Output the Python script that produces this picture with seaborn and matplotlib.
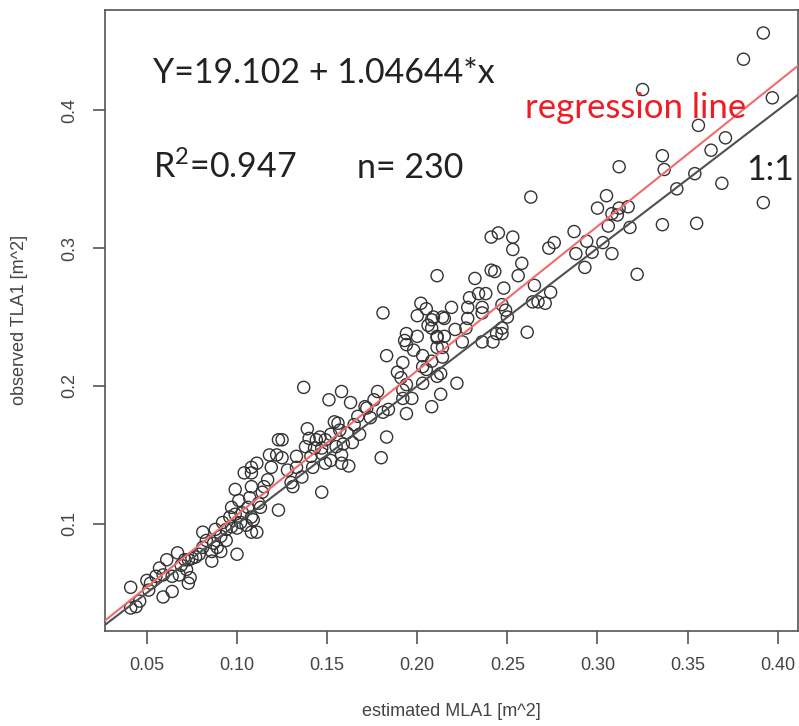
import matplotlib
matplotlib.use("Agg")
import matplotlib.pyplot as plt
import numpy as np
import pandas as pd
import seaborn as sns

# ---- data (estimated MLA1 vs observed TLA1, m^2) ----
estimated_mla1 = [
    0.041, 0.041, 0.044, 0.046, 0.050, 0.052, 0.055, 0.057, 0.059, 0.061,
    0.064, 0.064, 0.067, 0.068, 0.071, 0.072, 0.073, 0.074, 0.073, 0.075,
    0.077, 0.081, 0.088, 0.092, 0.083, 0.087, 0.091, 0.081, 0.089, 0.091,
    0.086, 0.123, 0.125, 0.122, 0.125, 0.111, 0.108, 0.104, 0.108, 0.119,
    0.099, 0.108, 0.115, 0.114, 0.107, 0.106, 0.112, 0.113, 0.097, 0.123,
    0.096, 0.099, 0.103, 0.108, 0.102, 0.109, 0.097, 0.108, 0.111, 0.100,
    0.094, 0.100, 0.139, 0.140, 0.144, 0.138, 0.143, 0.133, 0.141, 0.133,
    0.142, 0.136, 0.130, 0.131, 0.137, 0.158, 0.178, 0.151, 0.163, 0.171,
    0.172, 0.167, 0.174, 0.154, 0.156, 0.146, 0.152, 0.161, 0.168, 0.147,
    0.155, 0.159, 0.164, 0.147, 0.158, 0.149, 0.152, 0.158, 0.162, 0.147,
    0.183, 0.180, 0.181, 0.194, 0.193, 0.194, 0.183, 0.192, 0.191, 0.194,
    0.192, 0.192, 0.197, 0.181, 0.184, 0.194, 0.241, 0.241, 0.243, 0.211,
    0.232, 0.234, 0.238, 0.229, 0.228, 0.236, 0.236, 0.219, 0.202, 0.205,
    0.200, 0.209, 0.215, 0.214, 0.208, 0.208, 0.228, 0.227, 0.211, 0.211,
    0.215, 0.200, 0.211, 0.214, 0.225, 0.236, 0.242, 0.244, 0.203, 0.214,
    0.208, 0.203, 0.205, 0.211, 0.213, 0.203, 0.222, 0.213, 0.208, 0.263,
    0.245, 0.253, 0.253, 0.273, 0.276, 0.287, 0.288, 0.258, 0.256, 0.265,
    0.274, 0.248, 0.247, 0.264, 0.267, 0.271, 0.249, 0.250, 0.247, 0.247,
    0.261, 0.325, 0.336, 0.337, 0.312, 0.344, 0.305, 0.300, 0.312, 0.317,
    0.308, 0.311, 0.306, 0.318, 0.336, 0.294, 0.303, 0.297, 0.308, 0.293,
    0.322, 0.392, 0.381, 0.397, 0.356, 0.371, 0.363, 0.354, 0.369, 0.392,
    0.355, 0.079, 0.069, 0.094, 0.105, 0.101, 0.117, 0.128, 0.149, 0.157,
    0.165, 0.189, 0.198, 0.206, 0.221, 0.086, 0.059, 0.051, 0.118, 0.176,
]
observed_tla1 = [
    0.039, 0.054, 0.040, 0.044, 0.059, 0.057, 0.062, 0.068, 0.047, 0.074,
    0.051, 0.062, 0.079, 0.063, 0.074, 0.067, 0.057, 0.061, 0.074, 0.075,
    0.076, 0.094, 0.096, 0.101, 0.088, 0.086, 0.091, 0.083, 0.083, 0.080,
    0.073, 0.161, 0.161, 0.150, 0.148, 0.144, 0.141, 0.137, 0.137, 0.141,
    0.125, 0.127, 0.127, 0.123, 0.119, 0.112, 0.115, 0.112, 0.112, 0.110,
    0.105, 0.107, 0.108, 0.105, 0.101, 0.103, 0.098, 0.094, 0.094, 0.097,
    0.088, 0.078, 0.169, 0.162, 0.161, 0.156, 0.155, 0.149, 0.149, 0.141,
    0.141, 0.134, 0.130, 0.127, 0.199, 0.196, 0.196, 0.190, 0.188, 0.185,
    0.184, 0.178, 0.177, 0.174, 0.173, 0.163, 0.165, 0.166, 0.165, 0.155,
    0.156, 0.158, 0.159, 0.151, 0.150, 0.144, 0.146, 0.144, 0.142, 0.123,
    0.163, 0.148, 0.253, 0.238, 0.233, 0.230, 0.222, 0.217, 0.206, 0.201,
    0.197, 0.191, 0.191, 0.181, 0.183, 0.180, 0.308, 0.284, 0.283, 0.280,
    0.278, 0.267, 0.267, 0.264, 0.257, 0.257, 0.253, 0.257, 0.260, 0.256,
    0.251, 0.250, 0.249, 0.250, 0.248, 0.242, 0.249, 0.242, 0.236, 0.235,
    0.236, 0.236, 0.228, 0.228, 0.232, 0.232, 0.232, 0.238, 0.222, 0.221,
    0.218, 0.214, 0.212, 0.207, 0.209, 0.202, 0.202, 0.194, 0.185, 0.337,
    0.311, 0.308, 0.299, 0.300, 0.304, 0.312, 0.296, 0.289, 0.280, 0.273,
    0.268, 0.271, 0.259, 0.261, 0.261, 0.260, 0.255, 0.250, 0.242, 0.238,
    0.239, 0.415, 0.367, 0.357, 0.359, 0.343, 0.338, 0.329, 0.329, 0.330,
    0.325, 0.324, 0.316, 0.315, 0.317, 0.305, 0.304, 0.297, 0.296, 0.286,
    0.281, 0.456, 0.437, 0.409, 0.389, 0.380, 0.371, 0.354, 0.347, 0.333,
    0.318, 0.078, 0.070, 0.096, 0.099, 0.117, 0.132, 0.139, 0.161, 0.168,
    0.172, 0.210, 0.226, 0.244, 0.241, 0.080, 0.063, 0.052, 0.150, 0.190,
]

reg_intercept = 0.0019102   # 19.102 cm^2 expressed in m^2
reg_slope = 1.04644

x_ticks = [0.05, 0.10, 0.15, 0.20, 0.25, 0.30, 0.35, 0.40]
x_tick_labels = ["0.05", "0.10", "0.15", "0.20", "0.25", "0.30", "0.35", "0.40"]
y_ticks = [0.1, 0.2, 0.3, 0.4]
y_tick_labels = ["0.1", "0.2", "0.3", "0.4"]

df = pd.DataFrame({"estimated": estimated_mla1, "observed": observed_tla1})

# ---- style ----
sns.set_style("white")
plt.rcParams["font.family"] = ["Liberation Sans", "DejaVu Sans"]
plt.rcParams["mathtext.fontset"] = "custom"
plt.rcParams["mathtext.rm"] = "Lato"
plt.rcParams["mathtext.it"] = "Lato:italic"
plt.rcParams["mathtext.default"] = "rm"

W, H = 799, 726
fig = plt.figure(figsize=(W / 100, H / 100), dpi=100)
ax = fig.add_axes([105 / W, 1 - 631 / H, (798 - 105) / W, (631 - 10) / H])

sns.scatterplot(data=df, x="estimated", y="observed", ax=ax, s=76,
                marker="o", edgecolor="#333333", linewidth=1.0, legend=False)
for coll in ax.collections:
    coll.set_facecolor("none")

# axis ranges (R style: 4% padding)
xr = df["estimated"].max() - df["estimated"].min()
yr = df["observed"].max() - df["observed"].min()
xlim = (df["estimated"].min() - 0.04 * xr, df["estimated"].max() + 0.04 * xr)
ylim = (df["observed"].min() - 0.04 * yr, df["observed"].max() + 0.04 * yr)

xs = np.array(xlim)
ax.plot(xs, xs, color="#505050", lw=1.5, zorder=3)
ax.plot(xs, reg_intercept + reg_slope * xs, color="#f26b6b", lw=1.5, zorder=3)
ax.set_xlim(xlim)
ax.set_ylim(ylim)

for sp in ax.spines.values():
    sp.set_visible(True)
    sp.set_color("#555555")
    sp.set_linewidth(1.2)

ax.set_xticks(x_ticks)
ax.set_xticklabels(x_tick_labels)
ax.set_yticks(y_ticks)
ax.set_yticklabels(y_tick_labels, rotation=90, va="center")
ax.tick_params(axis="both", direction="out", length=9, width=1.2,
               color="#555555", labelsize=13, labelcolor="#444444",
               bottom=True, left=True)
ax.tick_params(axis="x", pad=10)
ax.tick_params(axis="y", pad=10)
ax.set_xlabel("")
ax.set_ylabel("")

fig.text(451.5 / W, 1 - 712 / H, "estimated MLA1 [m^2]", ha="center",
         va="center", fontsize=13, color="#444444")
fig.text(20 / W, 1 - 320 / H, "observed TLA1 [m^2]", ha="center",
         va="center", rotation=90, fontsize=13, color="#444444")

ann_font = ["Lato", "DejaVu Sans"]
ann_size = 24.5
fig.text(153 / W, 1 - 83 / H, "Y=19.102 + 1.04644*x", ha="left",
         va="baseline", fontsize=ann_size, color="#222222", family=ann_font)
fig.text(153 / W, 1 - 178 / H, r"R$^{2}$=0.947", ha="left",
         va="baseline", fontsize=ann_size, color="#222222", family=ann_font)
fig.text(357 / W, 1 - 178 / H, "n= 230", ha="left",
         va="baseline", fontsize=ann_size, color="#222222", family=ann_font)
fig.text(525 / W, 1 - 118 / H, "regression line", ha="left",
         va="baseline", fontsize=ann_size + 0.5, color="#ee1c25", family=ann_font)
fig.text(746 / W, 1 - 180 / H, "1:1", ha="left",
         va="baseline", fontsize=ann_size, color="#222222", family=ann_font)

fig.savefig("out.png", dpi=100)
